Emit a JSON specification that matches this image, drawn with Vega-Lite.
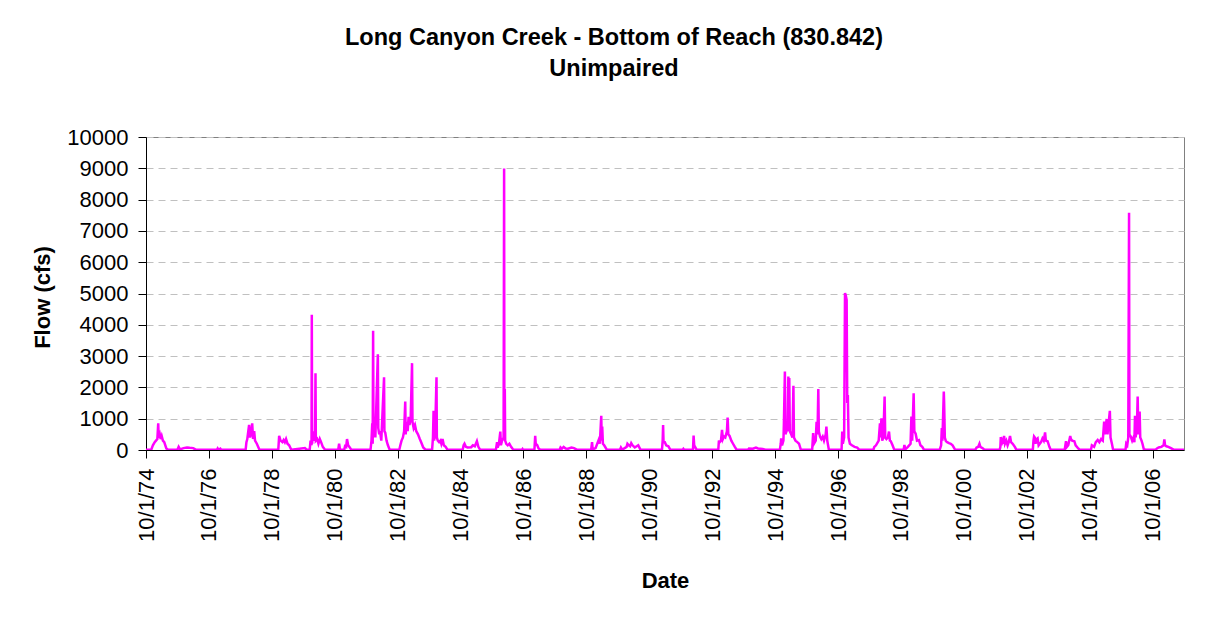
{
  "$schema": "https://vega.github.io/schema/vega-lite/v6.json",
  "width": 1038,
  "height": 313,
  "autosize": {"type": "none"},
  "padding": {"left": 146, "top": 137, "right": 31, "bottom": 168},
  "background": "white",
  "config": {
    "font": "Liberation Sans",
    "view": {"stroke": "#808080", "strokeWidth": 1}
  },
  "title": {
    "text": ["Long Canyon Creek - Bottom of Reach (830.842)", "Unimpaired"],
    "font": "Liberation Sans",
    "fontSize": 23.5,
    "fontWeight": "bold",
    "color": "black",
    "anchor": "middle",
    "frame": "group",
    "dx": -51,
    "offset": 46,
    "lineHeight": 31
  },
  "data": {
    "values": [
      {"d": "1974-10-01", "q": 5},
      {"d": "1974-12-01", "q": 10},
      {"d": "1974-12-20", "q": 150},
      {"d": "1975-01-10", "q": 250},
      {"d": "1975-01-25", "q": 300},
      {"d": "1975-02-10", "q": 350},
      {"d": "1975-02-20", "q": 850},
      {"d": "1975-02-25", "q": 400},
      {"d": "1975-03-10", "q": 500},
      {"d": "1975-03-20", "q": 350},
      {"d": "1975-04-01", "q": 450},
      {"d": "1975-04-15", "q": 300},
      {"d": "1975-05-01", "q": 250},
      {"d": "1975-05-25", "q": 50},
      {"d": "1975-06-15", "q": 10},
      {"d": "1975-10-01", "q": 10},
      {"d": "1975-10-15", "q": 100},
      {"d": "1975-11-01", "q": 20},
      {"d": "1975-12-10", "q": 60},
      {"d": "1976-01-20", "q": 80},
      {"d": "1976-02-20", "q": 70},
      {"d": "1976-04-01", "q": 60},
      {"d": "1976-05-01", "q": 10},
      {"d": "1977-01-01", "q": 5},
      {"d": "1977-01-10", "q": 50},
      {"d": "1977-01-20", "q": 5},
      {"d": "1977-02-10", "q": 40},
      {"d": "1977-02-20", "q": 5},
      {"d": "1977-12-01", "q": 10},
      {"d": "1977-12-10", "q": 250},
      {"d": "1977-12-20", "q": 350},
      {"d": "1978-01-10", "q": 800},
      {"d": "1978-01-20", "q": 400},
      {"d": "1978-02-01", "q": 500},
      {"d": "1978-02-15", "q": 850},
      {"d": "1978-02-25", "q": 350},
      {"d": "1978-03-10", "q": 600},
      {"d": "1978-03-20", "q": 300},
      {"d": "1978-04-10", "q": 200},
      {"d": "1978-05-10", "q": 10},
      {"d": "1978-12-15", "q": 10},
      {"d": "1978-12-25", "q": 450},
      {"d": "1979-01-10", "q": 300},
      {"d": "1979-02-01", "q": 250},
      {"d": "1979-02-15", "q": 320},
      {"d": "1979-03-01", "q": 250},
      {"d": "1979-03-15", "q": 350},
      {"d": "1979-04-01", "q": 200},
      {"d": "1979-04-20", "q": 150},
      {"d": "1979-05-15", "q": 10},
      {"d": "1979-10-20", "q": 60},
      {"d": "1979-11-10", "q": 10},
      {"d": "1979-12-15", "q": 20},
      {"d": "1979-12-25", "q": 300},
      {"d": "1980-01-05", "q": 150},
      {"d": "1980-01-08", "q": 4320},
      {"d": "1980-01-12", "q": 200},
      {"d": "1980-01-20", "q": 600},
      {"d": "1980-02-05", "q": 300},
      {"d": "1980-02-15", "q": 400},
      {"d": "1980-02-20", "q": 2455},
      {"d": "1980-02-24", "q": 300},
      {"d": "1980-03-10", "q": 350},
      {"d": "1980-03-25", "q": 200},
      {"d": "1980-04-10", "q": 350},
      {"d": "1980-04-25", "q": 250},
      {"d": "1980-05-15", "q": 100},
      {"d": "1980-06-10", "q": 10},
      {"d": "1980-11-10", "q": 10},
      {"d": "1980-11-20", "q": 200},
      {"d": "1980-12-01", "q": 10},
      {"d": "1981-01-20", "q": 20},
      {"d": "1981-01-28", "q": 120},
      {"d": "1981-02-10", "q": 100},
      {"d": "1981-02-20", "q": 350},
      {"d": "1981-03-05", "q": 150},
      {"d": "1981-03-20", "q": 100},
      {"d": "1981-04-10", "q": 10},
      {"d": "1981-11-20", "q": 10},
      {"d": "1981-12-01", "q": 300},
      {"d": "1981-12-10", "q": 850},
      {"d": "1981-12-15", "q": 200},
      {"d": "1981-12-20", "q": 3810},
      {"d": "1981-12-24", "q": 900},
      {"d": "1982-01-01", "q": 400},
      {"d": "1982-01-10", "q": 850},
      {"d": "1982-01-15", "q": 400},
      {"d": "1982-02-13", "q": 3060},
      {"d": "1982-02-18", "q": 700},
      {"d": "1982-03-01", "q": 500},
      {"d": "1982-03-10", "q": 600},
      {"d": "1982-03-25", "q": 300},
      {"d": "1982-04-26", "q": 2325},
      {"d": "1982-04-30", "q": 600},
      {"d": "1982-05-10", "q": 550},
      {"d": "1982-05-25", "q": 300},
      {"d": "1982-06-10", "q": 150},
      {"d": "1982-06-30", "q": 10},
      {"d": "1982-10-20", "q": 10},
      {"d": "1982-11-01", "q": 150},
      {"d": "1982-11-15", "q": 300},
      {"d": "1982-12-01", "q": 400},
      {"d": "1982-12-15", "q": 600},
      {"d": "1982-12-28", "q": 1550},
      {"d": "1983-01-02", "q": 500},
      {"d": "1983-01-15", "q": 900},
      {"d": "1983-01-25", "q": 600},
      {"d": "1983-02-05", "q": 1060},
      {"d": "1983-02-15", "q": 800},
      {"d": "1983-03-01", "q": 1000},
      {"d": "1983-03-17", "q": 2775},
      {"d": "1983-03-22", "q": 900},
      {"d": "1983-04-05", "q": 700},
      {"d": "1983-04-20", "q": 800},
      {"d": "1983-05-05", "q": 600},
      {"d": "1983-05-25", "q": 500},
      {"d": "1983-06-15", "q": 350},
      {"d": "1983-07-01", "q": 250},
      {"d": "1983-07-25", "q": 80},
      {"d": "1983-08-20", "q": 10},
      {"d": "1983-11-05", "q": 10},
      {"d": "1983-11-15", "q": 400},
      {"d": "1983-11-22", "q": 1250},
      {"d": "1983-11-28", "q": 300},
      {"d": "1983-12-10", "q": 500},
      {"d": "1983-12-26", "q": 2325},
      {"d": "1983-12-30", "q": 400},
      {"d": "1984-01-10", "q": 300},
      {"d": "1984-01-25", "q": 250},
      {"d": "1984-02-10", "q": 300},
      {"d": "1984-02-20", "q": 200},
      {"d": "1984-03-05", "q": 350},
      {"d": "1984-03-20", "q": 150},
      {"d": "1984-04-10", "q": 100},
      {"d": "1984-05-01", "q": 10},
      {"d": "1984-10-25", "q": 10},
      {"d": "1984-11-05", "q": 150},
      {"d": "1984-11-15", "q": 200},
      {"d": "1984-12-01", "q": 100},
      {"d": "1984-12-20", "q": 80},
      {"d": "1985-02-01", "q": 90},
      {"d": "1985-02-20", "q": 150},
      {"d": "1985-03-15", "q": 120},
      {"d": "1985-04-08", "q": 280},
      {"d": "1985-04-25", "q": 100},
      {"d": "1985-05-15", "q": 10},
      {"d": "1985-11-15", "q": 10},
      {"d": "1985-11-28", "q": 250},
      {"d": "1985-12-05", "q": 80},
      {"d": "1985-12-20", "q": 200},
      {"d": "1986-01-05", "q": 590},
      {"d": "1986-01-12", "q": 150},
      {"d": "1986-01-25", "q": 300},
      {"d": "1986-02-12", "q": 400},
      {"d": "1986-02-18", "q": 8990},
      {"d": "1986-02-21", "q": 300},
      {"d": "1986-02-26", "q": 1945},
      {"d": "1986-03-02", "q": 300},
      {"d": "1986-03-15", "q": 200},
      {"d": "1986-04-01", "q": 150},
      {"d": "1986-04-20", "q": 200},
      {"d": "1986-05-10", "q": 100},
      {"d": "1986-06-05", "q": 10},
      {"d": "1986-09-15", "q": 10},
      {"d": "1986-09-20", "q": 30},
      {"d": "1986-09-25", "q": 10},
      {"d": "1987-02-05", "q": 10},
      {"d": "1987-02-14", "q": 450},
      {"d": "1987-02-20", "q": 200},
      {"d": "1987-03-10", "q": 150},
      {"d": "1987-03-25", "q": 50},
      {"d": "1987-04-15", "q": 10},
      {"d": "1987-11-25", "q": 10},
      {"d": "1987-12-05", "q": 80},
      {"d": "1987-12-20", "q": 40},
      {"d": "1988-01-10", "q": 100},
      {"d": "1988-02-01", "q": 50},
      {"d": "1988-03-01", "q": 40},
      {"d": "1988-04-10", "q": 80},
      {"d": "1988-05-10", "q": 60},
      {"d": "1988-06-10", "q": 10},
      {"d": "1988-11-25", "q": 10},
      {"d": "1988-12-05", "q": 250},
      {"d": "1988-12-12", "q": 20},
      {"d": "1989-01-15", "q": 60},
      {"d": "1989-02-20", "q": 320},
      {"d": "1989-03-05", "q": 200},
      {"d": "1989-03-22", "q": 1090},
      {"d": "1989-03-27", "q": 300},
      {"d": "1989-04-02", "q": 750},
      {"d": "1989-04-10", "q": 200},
      {"d": "1989-04-25", "q": 150},
      {"d": "1989-05-25", "q": 10},
      {"d": "1989-10-25", "q": 10},
      {"d": "1989-11-05", "q": 80},
      {"d": "1989-11-20", "q": 10},
      {"d": "1990-01-10", "q": 100},
      {"d": "1990-01-20", "q": 200},
      {"d": "1990-02-05", "q": 150},
      {"d": "1990-02-20", "q": 120},
      {"d": "1990-03-05", "q": 220},
      {"d": "1990-03-20", "q": 150},
      {"d": "1990-04-15", "q": 80},
      {"d": "1990-05-25", "q": 150},
      {"d": "1990-06-20", "q": 10},
      {"d": "1991-02-25", "q": 10},
      {"d": "1991-03-05", "q": 300},
      {"d": "1991-03-10", "q": 800},
      {"d": "1991-03-15", "q": 250},
      {"d": "1991-03-30", "q": 250},
      {"d": "1991-04-15", "q": 150},
      {"d": "1991-05-10", "q": 120},
      {"d": "1991-06-01", "q": 10},
      {"d": "1991-10-25", "q": 10},
      {"d": "1991-11-01", "q": 40},
      {"d": "1991-11-10", "q": 10},
      {"d": "1992-02-20", "q": 10},
      {"d": "1992-02-27", "q": 460},
      {"d": "1992-03-05", "q": 150},
      {"d": "1992-03-15", "q": 100},
      {"d": "1992-04-01", "q": 10},
      {"d": "1992-12-10", "q": 10},
      {"d": "1992-12-17", "q": 300},
      {"d": "1992-12-25", "q": 250},
      {"d": "1993-01-10", "q": 300},
      {"d": "1993-01-22", "q": 640},
      {"d": "1993-02-01", "q": 350},
      {"d": "1993-02-14", "q": 430},
      {"d": "1993-03-01", "q": 400},
      {"d": "1993-03-20", "q": 600},
      {"d": "1993-03-28", "q": 1035},
      {"d": "1993-04-05", "q": 500},
      {"d": "1993-04-20", "q": 450},
      {"d": "1993-05-10", "q": 300},
      {"d": "1993-05-30", "q": 200},
      {"d": "1993-06-20", "q": 100},
      {"d": "1993-07-10", "q": 10},
      {"d": "1993-11-20", "q": 10},
      {"d": "1993-12-01", "q": 50},
      {"d": "1994-01-15", "q": 40},
      {"d": "1994-02-20", "q": 80},
      {"d": "1994-03-15", "q": 50},
      {"d": "1994-05-10", "q": 30},
      {"d": "1994-06-10", "q": 10},
      {"d": "1994-11-25", "q": 10},
      {"d": "1994-12-05", "q": 200},
      {"d": "1994-12-10", "q": 370},
      {"d": "1994-12-20", "q": 150},
      {"d": "1995-01-05", "q": 300},
      {"d": "1995-01-10", "q": 800},
      {"d": "1995-01-22", "q": 2510},
      {"d": "1995-01-28", "q": 500},
      {"d": "1995-02-10", "q": 600},
      {"d": "1995-02-25", "q": 900},
      {"d": "1995-03-03", "q": 2350},
      {"d": "1995-03-08", "q": 600},
      {"d": "1995-03-14", "q": 2300},
      {"d": "1995-03-20", "q": 600},
      {"d": "1995-04-05", "q": 500},
      {"d": "1995-04-20", "q": 400},
      {"d": "1995-05-01", "q": 2050},
      {"d": "1995-05-07", "q": 400},
      {"d": "1995-05-25", "q": 300},
      {"d": "1995-06-15", "q": 250},
      {"d": "1995-07-05", "q": 200},
      {"d": "1995-07-25", "q": 20},
      {"d": "1995-08-20", "q": 10},
      {"d": "1995-12-05", "q": 10},
      {"d": "1995-12-16", "q": 540},
      {"d": "1995-12-25", "q": 200},
      {"d": "1996-01-15", "q": 300},
      {"d": "1996-01-25", "q": 900},
      {"d": "1996-02-05", "q": 500},
      {"d": "1996-02-14", "q": 1945},
      {"d": "1996-02-20", "q": 600},
      {"d": "1996-03-05", "q": 430},
      {"d": "1996-03-20", "q": 350},
      {"d": "1996-04-05", "q": 430},
      {"d": "1996-04-20", "q": 300},
      {"d": "1996-05-10", "q": 500},
      {"d": "1996-05-18", "q": 750},
      {"d": "1996-05-28", "q": 300},
      {"d": "1996-06-15", "q": 20},
      {"d": "1996-07-10", "q": 10},
      {"d": "1996-11-10", "q": 10},
      {"d": "1996-11-18", "q": 590},
      {"d": "1996-11-25", "q": 200},
      {"d": "1996-12-10", "q": 400},
      {"d": "1996-12-20", "q": 5015},
      {"d": "1996-12-28", "q": 4950},
      {"d": "1997-01-08", "q": 4800},
      {"d": "1997-01-15", "q": 1500},
      {"d": "1997-01-22", "q": 1760},
      {"d": "1997-01-30", "q": 400},
      {"d": "1997-02-15", "q": 200},
      {"d": "1997-03-10", "q": 150},
      {"d": "1997-04-10", "q": 100},
      {"d": "1997-05-10", "q": 80},
      {"d": "1997-06-01", "q": 10},
      {"d": "1997-11-15", "q": 10},
      {"d": "1997-11-25", "q": 100},
      {"d": "1997-12-15", "q": 150},
      {"d": "1998-01-15", "q": 300},
      {"d": "1998-01-30", "q": 855},
      {"d": "1998-02-05", "q": 400},
      {"d": "1998-02-16", "q": 1010},
      {"d": "1998-02-25", "q": 300},
      {"d": "1998-03-10", "q": 400},
      {"d": "1998-03-25", "q": 1710},
      {"d": "1998-04-01", "q": 400},
      {"d": "1998-04-15", "q": 350},
      {"d": "1998-05-01", "q": 400},
      {"d": "1998-05-15", "q": 590},
      {"d": "1998-05-25", "q": 300},
      {"d": "1998-06-05", "q": 280},
      {"d": "1998-06-25", "q": 150},
      {"d": "1998-07-15", "q": 10},
      {"d": "1998-11-01", "q": 10},
      {"d": "1998-11-10", "q": 160},
      {"d": "1998-11-20", "q": 20},
      {"d": "1998-12-20", "q": 100},
      {"d": "1999-01-20", "q": 200},
      {"d": "1999-01-30", "q": 1070},
      {"d": "1999-02-08", "q": 300},
      {"d": "1999-02-25", "q": 1815},
      {"d": "1999-03-05", "q": 600},
      {"d": "1999-03-20", "q": 520},
      {"d": "1999-04-05", "q": 300},
      {"d": "1999-04-27", "q": 320},
      {"d": "1999-05-15", "q": 150},
      {"d": "1999-06-05", "q": 100},
      {"d": "1999-06-25", "q": 10},
      {"d": "1999-12-25", "q": 10},
      {"d": "2000-01-10", "q": 150},
      {"d": "2000-01-18", "q": 700},
      {"d": "2000-01-25", "q": 300},
      {"d": "2000-02-10", "q": 1870},
      {"d": "2000-02-14", "q": 1500},
      {"d": "2000-02-22", "q": 400},
      {"d": "2000-03-05", "q": 285},
      {"d": "2000-03-20", "q": 250},
      {"d": "2000-04-10", "q": 220},
      {"d": "2000-05-01", "q": 200},
      {"d": "2000-05-22", "q": 150},
      {"d": "2000-06-20", "q": 10},
      {"d": "2001-02-10", "q": 10},
      {"d": "2001-02-25", "q": 80},
      {"d": "2001-03-15", "q": 100},
      {"d": "2001-03-30", "q": 200},
      {"d": "2001-04-10", "q": 100},
      {"d": "2001-05-10", "q": 50},
      {"d": "2001-05-25", "q": 10},
      {"d": "2001-11-20", "q": 10},
      {"d": "2001-11-28", "q": 100},
      {"d": "2001-12-03", "q": 410},
      {"d": "2001-12-10", "q": 150},
      {"d": "2001-12-20", "q": 300},
      {"d": "2002-01-03", "q": 200},
      {"d": "2002-01-10", "q": 450},
      {"d": "2002-01-20", "q": 200},
      {"d": "2002-02-05", "q": 300},
      {"d": "2002-02-20", "q": 150},
      {"d": "2002-03-05", "q": 250},
      {"d": "2002-03-20", "q": 450},
      {"d": "2002-04-01", "q": 250},
      {"d": "2002-04-20", "q": 200},
      {"d": "2002-05-15", "q": 100},
      {"d": "2002-06-01", "q": 10},
      {"d": "2002-12-10", "q": 10},
      {"d": "2002-12-17", "q": 300},
      {"d": "2002-12-24", "q": 430},
      {"d": "2003-01-01", "q": 400},
      {"d": "2003-01-10", "q": 200},
      {"d": "2003-01-25", "q": 350},
      {"d": "2003-02-03", "q": 370},
      {"d": "2003-02-15", "q": 150},
      {"d": "2003-03-01", "q": 200},
      {"d": "2003-03-15", "q": 250},
      {"d": "2003-04-01", "q": 370},
      {"d": "2003-04-15", "q": 300},
      {"d": "2003-05-01", "q": 560},
      {"d": "2003-05-10", "q": 300},
      {"d": "2003-05-30", "q": 280},
      {"d": "2003-06-20", "q": 100},
      {"d": "2003-07-05", "q": 10},
      {"d": "2003-12-15", "q": 10},
      {"d": "2003-12-30", "q": 280},
      {"d": "2004-01-10", "q": 100},
      {"d": "2004-01-25", "q": 150},
      {"d": "2004-02-17", "q": 450},
      {"d": "2004-02-25", "q": 350},
      {"d": "2004-03-10", "q": 300},
      {"d": "2004-04-05", "q": 280},
      {"d": "2004-04-20", "q": 150},
      {"d": "2004-05-20", "q": 50},
      {"d": "2004-06-05", "q": 10},
      {"d": "2004-10-15", "q": 10},
      {"d": "2004-10-25", "q": 150},
      {"d": "2004-11-20", "q": 100},
      {"d": "2004-12-10", "q": 250},
      {"d": "2005-01-01", "q": 320},
      {"d": "2005-01-20", "q": 250},
      {"d": "2005-02-10", "q": 350},
      {"d": "2005-03-01", "q": 300},
      {"d": "2005-03-17", "q": 910},
      {"d": "2005-03-25", "q": 500},
      {"d": "2005-04-15", "q": 990},
      {"d": "2005-04-25", "q": 500},
      {"d": "2005-05-22", "q": 1250},
      {"d": "2005-05-30", "q": 400},
      {"d": "2005-06-15", "q": 200},
      {"d": "2005-06-28", "q": 20},
      {"d": "2005-07-20", "q": 10},
      {"d": "2005-11-20", "q": 10},
      {"d": "2005-11-28", "q": 200},
      {"d": "2005-12-10", "q": 150},
      {"d": "2005-12-22", "q": 400},
      {"d": "2005-12-31", "q": 7580},
      {"d": "2006-01-04", "q": 500},
      {"d": "2006-01-20", "q": 430},
      {"d": "2006-02-05", "q": 300},
      {"d": "2006-02-20", "q": 400},
      {"d": "2006-03-03", "q": 250},
      {"d": "2006-03-10", "q": 1090},
      {"d": "2006-03-18", "q": 400},
      {"d": "2006-04-02", "q": 800},
      {"d": "2006-04-10", "q": 1710},
      {"d": "2006-04-18", "q": 500},
      {"d": "2006-05-03", "q": 1230},
      {"d": "2006-05-10", "q": 400},
      {"d": "2006-05-25", "q": 300},
      {"d": "2006-06-05", "q": 200},
      {"d": "2006-06-20", "q": 30},
      {"d": "2006-07-10", "q": 10},
      {"d": "2006-11-05", "q": 10},
      {"d": "2006-11-20", "q": 50},
      {"d": "2006-12-10", "q": 80},
      {"d": "2007-01-10", "q": 100},
      {"d": "2007-02-05", "q": 150},
      {"d": "2007-02-14", "q": 340},
      {"d": "2007-02-22", "q": 150},
      {"d": "2007-03-10", "q": 120},
      {"d": "2007-04-01", "q": 100},
      {"d": "2007-05-01", "q": 60},
      {"d": "2007-06-01", "q": 10},
      {"d": "2007-09-30", "q": 5}
    ]
  },
  "mark": {"type": "line", "color": "#FF00FF", "strokeWidth": 2.5, "clip": true},
  "encoding": {
    "x": {
      "field": "d",
      "type": "temporal",
      "scale": {
        "type": "utc",
        "domain": [
          {"year": 1974, "month": 10, "date": 1, "utc": true},
          {"year": 2007, "month": 9, "date": 30, "utc": true}
        ]
      },
      "axis": {
        "title": "Date",
        "titleFont": "Liberation Sans",
        "titleFontSize": 22,
        "titleFontWeight": "bold",
        "titleColor": "black",
        "titleX": 519,
        "titleY": 130,
        "titleAlign": "center",
        "titleBaseline": "middle",
        "values": [
          {"year": 1974, "month": 10, "date": 1, "utc": true},
          {"year": 1976, "month": 10, "date": 1, "utc": true},
          {"year": 1978, "month": 10, "date": 1, "utc": true},
          {"year": 1980, "month": 10, "date": 1, "utc": true},
          {"year": 1982, "month": 10, "date": 1, "utc": true},
          {"year": 1984, "month": 10, "date": 1, "utc": true},
          {"year": 1986, "month": 10, "date": 1, "utc": true},
          {"year": 1988, "month": 10, "date": 1, "utc": true},
          {"year": 1990, "month": 10, "date": 1, "utc": true},
          {"year": 1992, "month": 10, "date": 1, "utc": true},
          {"year": 1994, "month": 10, "date": 1, "utc": true},
          {"year": 1996, "month": 10, "date": 1, "utc": true},
          {"year": 1998, "month": 10, "date": 1, "utc": true},
          {"year": 2000, "month": 10, "date": 1, "utc": true},
          {"year": 2002, "month": 10, "date": 1, "utc": true},
          {"year": 2004, "month": 10, "date": 1, "utc": true},
          {"year": 2006, "month": 10, "date": 1, "utc": true}
        ],
        "labelExpr": "utcFormat(datum.value, '%-m/%-d/%y')",
        "labelAngle": -90,
        "labelAlign": "right",
        "labelBaseline": "middle",
        "labelFont": "Liberation Sans",
        "labelFontSize": 22,
        "labelColor": "black",
        "labelPadding": 10,
        "labelOverlap": false,
        "labelFlush": false,
        "tickSize": 8,
        "tickColor": "black",
        "domainColor": "black",
        "grid": false
      }
    },
    "y": {
      "field": "q",
      "type": "quantitative",
      "scale": {"domain": [0, 10000], "nice": false},
      "axis": {
        "title": "Flow (cfs)",
        "titleFont": "Liberation Sans",
        "titleFontSize": 22,
        "titleFontWeight": "bold",
        "titleColor": "black",
        "titleX": -104,
        "titleY": 160,
        "titleAngle": -90,
        "titleAlign": "center",
        "titleBaseline": "middle",
        "values": [0, 1000, 2000, 3000, 4000, 5000, 6000, 7000, 8000, 9000, 10000],
        "format": "d",
        "labelFont": "Liberation Sans",
        "labelFontSize": 22,
        "labelColor": "black",
        "labelPadding": 10,
        "labelFlush": false,
        "labelOverlap": false,
        "tickSize": 8,
        "tickColor": "black",
        "domainColor": "black",
        "grid": true,
        "gridColor": "#c0c0c0",
        "gridDash": [7, 5],
        "gridWidth": 1
      }
    }
  }
}
